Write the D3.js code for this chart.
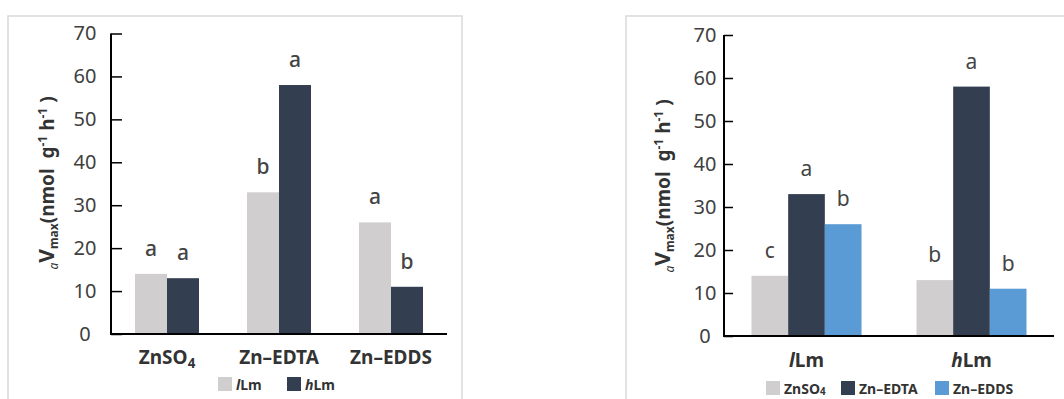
<!DOCTYPE html>
<html><head><meta charset="utf-8">
<script src="https://cdn.jsdelivr.net/npm/d3@7"></script>
<style>
body{margin:0;background:#fff;}
svg{display:block;font-family:"Noto Sans","Open Sans",sans-serif;}
</style></head>
<body>
<svg id="c" width="1064" height="399"></svg>
<script>
// ---- data ----
const leftCategories = ["ZnSO4", "Zn–EDTA", "Zn–EDDS"];
const leftSeries = ["lLm", "hLm"];
const leftValues_lLm = [14, 33, 26];
const leftValues_hLm = [13, 58, 11];
const leftLetters_lLm = ["a", "b", "a"];
const leftLetters_hLm = ["a", "a", "b"];

const rightCategories = ["lLm", "hLm"];
const rightSeries = ["ZnSO4", "Zn–EDTA", "Zn–EDDS"];
const rightValues_ZnSO4 = [14, 13];
const rightValues_EDTA = [33, 58];
const rightValues_EDDS = [26, 11];
const rightLetters_ZnSO4 = ["c", "b"];
const rightLetters_EDTA = ["a", "a"];
const rightLetters_EDDS = ["b", "b"];

const yTicks = [0, 10, 20, 30, 40, 50, 60, 70];

const colors = {lLm:"#d0cecf", hLm:"#333e50", ZnSO4:"#d0cecf", "Zn–EDTA":"#333e50", "Zn–EDDS":"#5b9bd5"};

const svg = d3.select("#c");

// frames
svg.append("rect").attr("x",8).attr("y",16).attr("width",454).attr("height",420)
  .attr("fill","none").attr("stroke","#d9d9d9").attr("stroke-width",1.5);
svg.append("rect").attr("x",626).attr("y",16).attr("width",460).attr("height",420)
  .attr("fill","none").attr("stroke","#d9d9d9").attr("stroke-width",1.5);

function addLabel(sel, name, subDy){
  if (name === "ZnSO4"){
    sel.append("tspan").text("ZnSO");
    sel.append("tspan").text("4").attr("font-size","0.7em").attr("dy", subDy || "0.3em");
  } else if (name === "lLm" || name === "hLm"){
    sel.append("tspan").text(name[0]).attr("font-style","italic");
    sel.append("tspan").text(name.slice(1));
  } else sel.text(name);
}

function yTitle(g, cx, cy){
  const t = g.append("text").attr("transform",`translate(${cx},${cy}) rotate(-90)`)
    .attr("text-anchor","middle").attr("font-weight","bold").attr("font-size",19).attr("fill","#333")
    .style("white-space","pre");
  t.append("tspan").text("a").attr("font-style","italic").attr("font-size",12).attr("font-weight","normal").attr("dy",4);
  t.append("tspan").text("V").attr("dy",-4).attr("font-size",21);
  t.append("tspan").text("max").attr("font-size",12).attr("dy",4);
  t.append("tspan").text("(nmol  g").attr("dy",-4);
  t.append("tspan").text("-1").attr("font-size",12).attr("dy",-7);
  t.append("tspan").text(" h").attr("dy",7);
  t.append("tspan").text("-1").attr("font-size",12).attr("dy",-7);
  t.append("tspan").text(" )").attr("dy",7);
}

function panel(opt){
  const g = svg.append("g");
  const y = d3.scaleLinear().domain([0,70]).range([opt.y0, opt.y70]);
  const x = d3.scaleBand().domain(opt.categories).range([opt.xL, opt.xR])
    .paddingInner(opt.p).paddingOuter(opt.p/2);
  const xs = d3.scaleBand().domain(opt.series).range([0, x.bandwidth()]);

  opt.series.forEach((s, si) => {
    const vals = opt.values[si], lets = opt.letters[si];
    opt.categories.forEach((c, ci) => {
      g.append("rect").attr("x", x(c)+xs(s)).attr("width", xs.bandwidth())
        .attr("y", y(vals[ci])).attr("height", y(0)-y(vals[ci])).attr("fill", colors[s]);
      g.append("text").attr("x", x(c)+xs(s)+xs.bandwidth()/2).attr("y", y(vals[ci])-18)
        .attr("text-anchor","middle").attr("font-size",21).attr("font-weight",opt.letterWeight)
        .attr("fill","#444").text(lets[ci]);
    });
  });

  const ya = g.append("g").attr("transform",`translate(${opt.xL},0)`)
    .call(d3.axisRight(y).tickValues(yTicks).tickSize(opt.tickLen).tickFormat(d3.format("d")));
  ya.select(".domain").remove();
  ya.selectAll(".tick line").attr("stroke","#000").attr("stroke-width",1.5);
  ya.selectAll(".tick text").attr("x", opt.labelX - opt.xL).attr("text-anchor","middle")
    .attr("font-size",20).attr("fill","#404040").attr("font-family","'Noto Sans',sans-serif");
  g.append("line").attr("x1",opt.xL).attr("x2",opt.xL).attr("y1",opt.y70).attr("y2",opt.y0+1)
    .attr("stroke","#000").attr("stroke-width",2);
  g.append("line").attr("x1",opt.xL-1).attr("x2",opt.xR).attr("y1",opt.y0).attr("y2",opt.y0)
    .attr("stroke","#000").attr("stroke-width",2);
  opt.categories.forEach(c => {
    const t = g.append("text").attr("x", x(c)+x.bandwidth()/2).attr("y", opt.catY)
      .attr("text-anchor","middle").attr("font-size",19).attr("font-weight","bold").attr("fill","#333");
    addLabel(t, c);
  });
  yTitle(g, opt.titleX, opt.titleY);

  opt.series.forEach((s, si) => {
    const lx = opt.legendX[si];
    g.append("rect").attr("x", lx).attr("y", opt.legendY).attr("width",14).attr("height",14).attr("fill", colors[s]);
    const t = g.append("text").attr("x", lx+18).attr("y", opt.legendY+13)
      .attr("font-size",14).attr("font-weight","bold").attr("fill","#333");
    addLabel(t, s, "0.15em");
  });
}

panel({
  categories: leftCategories, series: leftSeries,
  values: [leftValues_lLm, leftValues_hLm], letters: [leftLetters_lLm, leftLetters_hLm],
  xL: 111, xR: 447, y0: 334, y70: 33.5, p: 0.4286, tickLen: 11, labelX: 85,
  letterWeight: 500, catY: 364, titleX: 54, titleY: 183,
  legendX: [218, 287], legendY: 377
});

panel({
  categories: rightCategories, series: rightSeries,
  values: [rightValues_ZnSO4, rightValues_EDTA, rightValues_EDDS],
  letters: [rightLetters_ZnSO4, rightLetters_EDTA, rightLetters_EDDS],
  xL: 724, xR: 1054, y0: 336, y70: 35, p: 1/3, tickLen: 9, labelX: 705,
  letterWeight: "normal", catY: 367, titleX: 670, titleY: 186,
  legendX: [766, 841, 935], legendY: 381
});
</script>
</body></html>
